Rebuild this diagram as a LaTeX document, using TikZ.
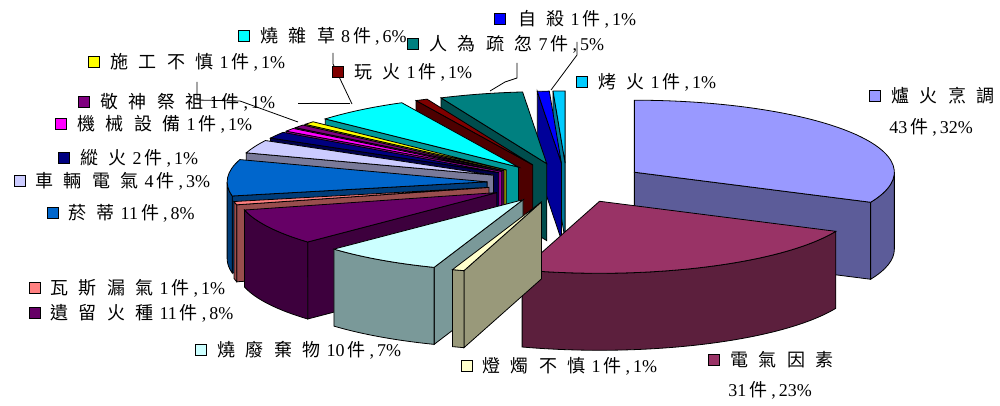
\documentclass[tikz,border=0pt]{standalone}
\usepackage{fontspec}
\setmainfont{Liberation Serif}
\newfontfamily\cjk[LetterSpace=58]{Noto Sans CJK TC}
\usetikzlibrary{positioning,calc}

\definecolor{luhuo}{HTML}{9999FF}
\definecolor{dianqi}{HTML}{993366}
\definecolor{dengzhu}{HTML}{FFFFCC}
\definecolor{feiqi}{HTML}{CCFFFF}
\definecolor{yiliu}{HTML}{660066}
\definecolor{wasi}{HTML}{FF8080}
\definecolor{yandi}{HTML}{0066CC}
\definecolor{cheliang}{HTML}{CCCCFF}
\definecolor{zonghuo}{HTML}{000080}
\definecolor{jixie}{HTML}{FF00FF}
\definecolor{jingshen}{HTML}{800080}
\definecolor{shigong}{HTML}{FFFF00}
\definecolor{zacao}{HTML}{00FFFF}
\definecolor{wanhuo}{HTML}{800000}
\definecolor{renwei}{HTML}{008080}
\definecolor{zisha}{HTML}{0000FF}
\definecolor{kaohuo}{HTML}{00CCFF}

% label text: name, count, percent
\newcommand{\lb}[3]{{\cjk #1}\hspace{6pt}#2\hspace{3pt}{\cjk 件}\hspace{4pt},\hspace{3pt}#3\%}

% one exploded slice: from angle, to angle, colour
\newcommand{\pieslice}[3]{%
  \pgfmathsetmacro{\midang}{(#1+#2)/2}%
  \pgfmathsetmacro{\ox}{567+80*cos(\midang)}%
  \pgfmathsetmacro{\oy}{222+20*sin(\midang)}%
  \coordinate (O) at (\ox,\oy);%
  \pgfmathsetmacro{\clo}{cos(#1)}%
  \pgfmathsetmacro{\chh}{cos(#2)}%
  \ifdim\clo pt>0.001pt
    \filldraw[wall=#3] (O) -- ++(#1:260 and 72) -- ++(0,-77) -- ($(O)+(0,-77)$) -- cycle;
  \fi
  \ifdim\chh pt<-0.001pt
    \filldraw[wall=#3] (O) -- ++(#2:260 and 72) -- ++(0,-77) -- ($(O)+(0,-77)$) -- cycle;
  \fi
  \pgfmathsetmacro{\wa}{max(#1,-180)}%
  \pgfmathsetmacro{\wb}{min(#2,0)}%
  \ifdim\wa pt<\wb pt
    \filldraw[wall=#3] ($(O)+(\wa:260 and 72)$) arc[start angle=\wa,end angle=\wb,x radius=260,y radius=72]
      -- ++(0,-77) arc[start angle=\wb,end angle=\wa,x radius=260,y radius=72] -- cycle;
  \fi
  \filldraw[fill=#3] (O) -- ++(#1:260 and 72) arc[start angle=#1,end angle=#2,x radius=260,y radius=72] -- cycle;%
}

\begin{document}
\begin{tikzpicture}[x=1pt,y=1pt,line width=0.8pt,
    font=\fontsize{18}{20}\selectfont,
    wall/.style={fill=#1!60!black}]
  \tikzstyle{key}=[draw, minimum size=11pt, inner sep=0pt]
  \tikzstyle{every node}=[inner sep=0pt]
  \useasboundingbox (0,0) rectangle (1000,405);

  % slices, back to front
  \pieslice{-270}{-267.33}{kaohuo}
  \pieslice{-267.33}{-264.67}{zisha}
  \pieslice{-264.67}{-246}{renwei}
  \pieslice{-246}{-243.33}{wanhuo}
  \pieslice{-243.33}{-222}{zacao}
  \pieslice{-222}{-219.33}{shigong}
  \pieslice{-219.33}{-216.67}{jingshen}
  \pieslice{-216.67}{-214}{jixie}
  \pieslice{-24.67}{90}{luhuo}
  \pieslice{-214}{-208.67}{zonghuo}
  \pieslice{-208.67}{-198}{cheliang}
  \pieslice{-198}{-168.67}{yandi}
  \pieslice{-168.67}{-166}{wasi}
  \pieslice{-166}{-136.67}{yiliu}
  \pieslice{-136.67}{-110}{feiqi}
  \pieslice{-107.33}{-24.67}{dianqi}
  \pieslice{-110}{-107.33}{dengzhu}

  % leader lines
  \coordinate (zcA) at (333,352);
  \coordinate (zcP) at (352,301);
  \coordinate (jsA) at (298,302);
  \coordinate (jsP) at (350,302);
  \coordinate (sgA) at (197,323);
  \coordinate (sgP) at (298,283);
  \coordinate (rwA) at (517,342);
  \coordinate (rwP) at (490,314);
  \coordinate (zsA) at (577,363);
  \coordinate (zsP) at (551,315);
  \draw (zcA) -- ++(0,-11) -- (zcP);
  \draw (jsA) -- (jsP);
  \draw (sgA) -- ++(0,-18) -- ++(43,-1) -- (sgP);
  \draw (rwA) -- ++(0,-15) -- ++(-12,-4) -- (rwP);
  \draw (zsA) -- ++(0,-13) -- (zsP);

  % legend keys and labels
  \node[key, fill=zacao] (zcK) at (244,369) {};
  \node[right=10pt of zcK] (zcT) {\lb{燒雜草}{8}{6}};
  \node[key, fill=renwei] (rwK) at (413,361) {};
  \node[right=10pt of rwK] (rwT) {\lb{人為疏忽}{7}{5}};
  \node[key, fill=zisha] (zsK) at (500,386) {};
  \node[right=12pt of zsK] (zsT) {\lb{自殺}{1}{1}};
  \node[key, fill=kaohuo] (khK) at (582,323) {};
  \node[right=10pt of khK] (khT) {\lb{烤火}{1}{1}};
  \node[key, fill=luhuo] (lhK) at (875,309) {};
  \node[right=10pt of lhK] (lhT) {\cjk 爐火烹調};
  \node[anchor=west] (lhN) at (889,278) {43\hspace{3pt}{\cjk 件}\hspace{4pt},\hspace{3pt}32\%};
  \node[key, fill=dianqi] (dqK) at (714,45) {};
  \node[right=10pt of dqK] (dqT) {\cjk 電氣因素};
  \node[anchor=west] (dqN) at (728,15) {31\hspace{3pt}{\cjk 件}\hspace{4pt},\hspace{3pt}23\%};
  \node[key, fill=dengzhu] (dzK) at (467,39) {};
  \node[right=9pt of dzK] (dzT) {\lb{燈燭不慎}{1}{1}};
  \node[key, fill=feiqi] (fqK) at (201,55) {};
  \node[right=10pt of fqK] (fqT) {\lb{燒廢棄物}{10}{7}};
  \node[key, fill=wasi] (wsK) at (35,117) {};
  \node[right=9pt of wsK] (wsT) {\lb{瓦斯漏氣}{1}{1}};
  \node[key, fill=yiliu] (ylK) at (35,92) {};
  \node[right=9pt of ylK] (ylT) {\lb{遺留火種}{11}{8}};
  \node[key, fill=yandi] (ydK) at (53,192) {};
  \node[right=9pt of ydK] (ydT) {\lb{菸蒂}{11}{8}};
  \node[key, fill=cheliang] (clK) at (20,224) {};
  \node[right=9pt of clK] (clT) {\lb{車輛電氣}{4}{3}};
  \node[key, fill=zonghuo] (zhK) at (64,247) {};
  \node[right=10pt of zhK] (zhT) {\lb{縱火}{2}{1}};
  \node[key, fill=jixie] (jxK) at (61,281) {};
  \node[right=10pt of jxK] (jxT) {\lb{機械設備}{1}{1}};
  \node[key, fill=jingshen] (jsK) at (84,303) {};
  \node[right=10pt of jsK] (jsT) {\lb{敬神祭祖}{1}{1}};
  \node[key, fill=shigong] (sgK) at (94,343) {};
  \node[right=10pt of sgK] (sgT) {\lb{施工不慎}{1}{1}};
  \node[key, fill=wanhuo] (whK) at (338,333) {};
  \node[right=10pt of whK] (whT) {\lb{玩火}{1}{1}};
\end{tikzpicture}
\end{document}
